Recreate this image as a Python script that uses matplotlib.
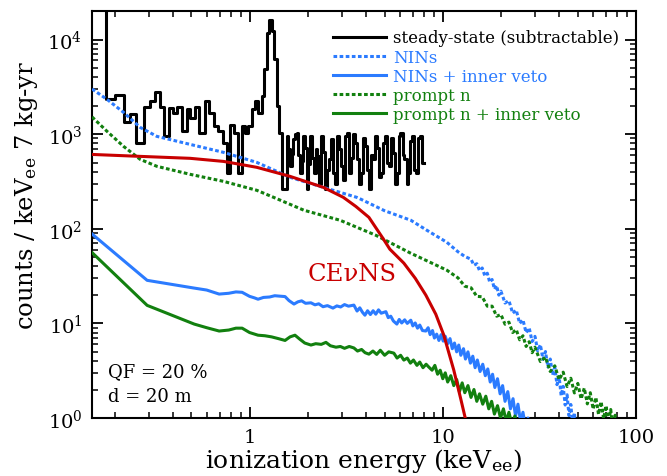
import matplotlib
matplotlib.use("Agg")
import matplotlib.pyplot as plt
import matplotlib.ticker as ticker
import numpy as np

# ── style ────────────────────────────────────────────────────────────────────
plt.rcParams.update({
    "font.family": "DejaVu Serif",
    "mathtext.fontset": "dejavuserif",
    "axes.linewidth": 1.5,
})

BLUE = "#2b7bff"
GREEN = "#12800f"
RED = "#c80000"

# ── steady-state background (histogram, keV bin edges / counts) ─────────────
ss_edges = [0.12, 0.1813, 0.2018, 0.2228, 0.2412, 0.2580, 0.2827, 0.3036, 0.3223,
            0.3420, 0.3615, 0.3806, 0.4008, 0.4236, 0.4460, 0.4734, 0.4926, 0.5228,
            0.5505, 0.5888, 0.6200, 0.6554, 0.6901, 0.7266, 0.7621, 0.7929, 0.8315,
            0.8756, 0.9111, 0.9479, 0.9862, 1.026, 1.068, 1.111, 1.156, 1.188, 1.227,
            1.261, 1.302, 1.339, 1.382, 1.426, 1.466,
            1.556, 1.587, 1.619, 1.652, 1.685, 1.719, 1.753, 1.788, 1.824, 1.860,
            1.897, 1.935, 1.974, 2.014, 2.054, 2.103, 2.154, 2.197, 2.242, 2.296,
            2.351, 2.398, 2.446, 2.505, 2.565, 2.627, 2.690, 2.755, 2.821, 2.889,
            2.959, 3.030, 3.103, 3.178, 3.254, 3.333, 3.414, 3.496, 3.580, 3.666,
            3.754, 3.845, 3.937, 4.032, 4.129, 4.228, 4.330, 4.435, 4.542, 4.651,
            4.763, 4.878, 4.995, 5.116, 5.239, 5.365, 5.494, 5.626, 5.762, 5.900,
            6.042, 6.188, 6.337, 6.490, 6.646, 6.806, 6.970, 7.138, 7.310, 7.486,
            7.666, 7.820, 7.977]
ss_counts = [1e5, 2328, 2566, 1341, 1616, 812, 1947, 2234, 2781, 1947, 954, 1901,
             1683, 1947, 1078, 1824, 1490, 1947, 1035, 2234, 1683, 1217, 1078, 812,
             392, 1237, 1035, 392, 1217, 1035, 1217, 1824, 2234, 1683, 2523, 4823,
             11760, 16260, 12250, 6150, 1978, 1035, 261,
             954, 700, 460, 620, 880, 1000, 1040, 600, 392, 520, 954, 720,
             261, 480, 954, 560, 392, 700, 587, 300, 954, 640, 261, 420,
             542, 880, 392, 300, 954, 700, 460, 330, 960, 1040, 392, 560,
             1000, 800, 542, 300, 392, 900, 749, 420, 261, 600, 542, 954,
             719, 350, 392, 800, 954, 500, 460, 900, 637, 300, 392, 954,
             1030, 600, 542, 300, 392, 850, 954, 420, 392, 900, 954, 500]

# ── NINs (dotted blue) ─────────────────────────────────────────────────────
nins_e = [0.153, 0.183, 0.2228, 0.2716, 0.3313, 0.4926, 0.7323, 1.089, 1.619,
          2.407, 3.58, 3.77, 5.0, 6.83, 8.3, 10.49, 12.0, 13.0,
          14, 14.5, 15, 15.5, 16, 16.5, 17, 17.5, 18, 18.5, 19, 19.5, 20, 21, 22,
          23, 24, 25, 26, 27, 28, 29, 30, 31, 32, 33, 34, 35, 36, 37, 38, 39, 40,
          41, 42, 43, 44, 45, 46, 47, 48, 49, 50]
nins_c = [3000, 2328, 1697, 1178, 947, 779, 642, 503, 350,
          274, 215, 205, 155, 123, 96, 72, 57, 51,
          47.6, 41.1, 42.7, 36.1, 38.5, 31.9, 33.9, 27.2, 29.1, 23.0, 25.1, 19.9,
          21.9, 16.4, 17.4, 12.8, 13.8, 10.0, 10.9, 7.96, 8.97, 6.43, 7.29, 5.11,
          5.96, 4.17, 5.04, 3.47, 4.2, 2.85, 3.43, 2.25, 2.74, 1.72, 2.16, 1.37,
          1.76, 1.06, 1.39, 0.84, 1.14, 0.66, 0.74]

# ── NINs + inner veto (solid blue) ────────────────────────────────────────
ninsv_e = [0.153, 0.295, 0.517, 0.60, 0.696, 0.78, 0.85, 0.915, 1.0, 1.06, 1.106,
           1.18, 1.27, 1.35, 1.43, 1.526, 1.60, 1.698, 1.78, 1.86, 1.95, 2.078,
           2.18, 2.28, 2.40, 2.53, 2.701, 2.83, 2.96, 3.10, 3.25, 3.467, 3.60,
           3.72, 3.84, 3.954, 4.08, 4.22, 4.36, 4.50, 4.65, 4.80, 5.076, 5.22,
           5.38, 5.55, 5.785, 5.95, 6.13, 6.35, 6.55, 6.832, 7.0, 7.2, 7.4, 7.6,
           7.85, 8.17, 8.4, 8.6, 8.85, 9.05, 9.3, 9.55, 9.8, 10.05, 10.3, 10.6,
           10.9, 11.2, 11.5, 11.8, 12.1, 12.4, 12.8, 13.1, 13.5, 13.9, 14.3, 14.7,
           15.1, 15.6, 16.1, 16.6, 17.1, 17.6, 18.1, 18.6, 19.2, 19.8, 20.4, 21.0,
           21.7, 22.4, 23.1, 23.8, 24.5, 25.3, 26.0, 26.8, 27.6, 28.5, 29.3, 30.2,
           31.2, 32.2]
ninsv_c = [88, 28.5, 23.6, 22.5, 20.4, 20.8, 21.5, 21.3, 19.3, 18.6, 18.0,
           18.8, 19.0, 19.6, 19.4, 19.2, 17.4, 16.0, 16.9, 17.3, 16.3, 16.5,
           15.7, 16.1, 15.0, 15.4, 14.5, 15.3, 14.9, 15.8, 15.2, 15.6, 13.5,
           14.6, 13.1, 12.2, 13.6, 12.4, 13.6, 12.5, 13.9, 12.8, 13.3, 11.5,
           11.9, 10.6, 9.83, 11.0, 10.1, 10.9, 10.0, 10.8, 9.4, 10.1, 8.9, 9.6,
           8.4, 8.3, 9.0, 7.6, 8.4, 7.0, 7.7, 6.6, 7.6, 6.5, 7.3, 6.1,
           6.9, 5.4, 6.2, 5.0, 5.9, 4.6, 5.4, 4.2, 5.0, 3.8, 4.5, 3.4,
           4.1, 3.1, 3.7, 2.8, 3.3, 2.4, 2.9, 2.1, 2.6, 1.8, 2.2, 1.5,
           1.9, 1.25, 1.6, 1.05, 1.4, 0.9, 1.15, 0.8, 1.0, 0.7, 0.9, 0.72,
           0.85, 0.65]

# ── prompt n (dotted green) ───────────────────────────────────────────────
pn_e = [0.153, 0.183, 0.2228, 0.2716, 0.3313, 0.4926, 0.7323, 1.089, 1.33, 1.91,
        2.94, 4.5, 6.83, 8.5, 10.49,
        12, 13, 14, 15, 16, 17, 18, 19, 20, 21, 22, 23, 24, 25, 26, 27, 28, 29,
        30, 32, 34, 36, 38, 40, 42, 44, 46, 48, 50, 52, 54, 56, 58, 60, 62, 64,
        66, 68, 70, 72, 74, 76, 78, 80, 82]
pn_c = [1520, 1069, 742, 541, 457, 376, 317, 255, 215, 157,
        123, 85.4, 55.1, 44.7, 36.5,
        30.2, 24.7, 23.8, 19.3, 19.1, 15.2, 15.2, 11.9, 12.4, 9.8, 10.3, 8.0,
        8.6, 6.7, 7.4, 5.7, 6.4, 4.9, 5.6, 3.95, 4.4, 3.1, 3.56, 2.54, 3.05,
        2.15, 2.63, 1.84, 2.32, 1.59, 2.07, 1.41, 1.85, 1.24, 1.65, 1.09, 1.49,
        0.98, 1.35, 0.88, 1.23, 0.77, 1.07, 0.67, 0.7]

# ── prompt n + inner veto (solid green) ───────────────────────────────────
pnv_e = [0.153, 0.295, 0.517, 0.60, 0.696, 0.78, 0.85, 0.915, 1.0, 1.106, 1.2,
         1.3, 1.41, 1.526, 1.62, 1.718, 1.82, 1.93, 2.078, 2.2, 2.35, 2.485,
         2.62, 2.80, 2.95, 3.10, 3.28, 3.467, 3.62, 3.80, 3.96, 4.146, 4.35,
         4.55, 4.75, 5.0, 5.25, 5.58, 5.8, 6.05, 6.288, 6.55, 6.8, 7.05, 7.35,
         7.6, 7.9, 8.2, 8.47, 8.8, 9.1, 9.4, 9.7, 10.0, 10.3, 10.6, 11.0, 11.4,
         11.8, 12.2, 12.6, 13.0, 13.5, 14.0, 14.5, 15.0, 15.5, 16.1, 16.7, 17.3,
         17.9, 18.5, 19.2, 19.9, 20.6, 21.3, 22.0, 22.8, 23.6, 24.4, 25.2, 26.0,
         26.8, 27.7, 28.6, 29.5, 30.5, 31.5, 32.5, 33.5]
pnv_c = [56, 15.5, 9.83, 9.0, 8.3, 8.5, 8.9, 8.9, 8.0, 7.5, 7.4,
         7.2, 6.9, 6.6, 7.2, 7.5, 6.8, 6.2, 5.9, 6.1, 6.0, 6.3,
         5.8, 5.6, 5.7, 5.45, 5.7, 5.5, 5.1, 5.3, 4.9, 4.73, 5.1,
         4.7, 5.2, 4.6, 5.0, 4.85, 4.3, 4.6, 4.09, 4.3, 3.8, 4.1, 3.6,
         3.9, 3.4, 3.7, 3.45, 3.2, 3.6, 2.9, 3.2, 2.6, 3.0, 2.4, 2.8, 2.2,
         2.55, 1.9, 2.35, 1.85, 2.2, 1.65, 2.0, 1.5, 1.8, 1.4, 1.7, 1.25,
         1.5, 1.1, 1.35, 1.0, 1.25, 0.92, 1.15, 0.85, 1.05, 0.8, 0.95, 0.7,
         0.9, 0.72, 0.85, 0.68, 0.8, 0.66, 0.75, 0.6]

# ── CEvNS signal (solid red) ──────────────────────────────────────────────
cevns_e = [0.150, 0.2716, 0.4926, 0.7323, 1.089, 1.619, 2.407, 3.054, 3.55, 4.146,
           4.897, 5.322, 6.288, 7.2, 8.17, 9.2, 10.12, 11.40, 12.39, 13.3]
cevns_c = [611, 582, 555, 515, 446, 358, 274, 215, 172, 132,
           79.4, 60.8, 43.3, 30, 19.9, 12.5, 7.52, 3.21, 1.59, 0.86]

DOT = (0, (1.2, 0.8))

fig = plt.figure(figsize=(6.67, 4.77), dpi=100)
ax = fig.add_axes([0.138, 0.1216, 0.8155, 0.8532])

ax.plot(ss_edges, ss_counts + [ss_counts[-1]], drawstyle="steps-post",
        color="black", lw=2.2, label="steady-state (subtractable)", zorder=2)
ax.plot(nins_e, nins_c, color=BLUE, lw=2.2, ls=DOT, label="NINs", zorder=3)
ax.plot(ninsv_e, ninsv_c, color=BLUE, lw=2.2, label="NINs + inner veto", zorder=3)
ax.plot(pn_e, pn_c, color=GREEN, lw=2.2, ls=DOT, label="prompt n", zorder=3)
ax.plot(pnv_e, pnv_c, color=GREEN, lw=2.2, label="prompt n + inner veto", zorder=3)
ax.plot(cevns_e, cevns_c, color=RED, lw=2.2, zorder=4)

ax.set_xscale("log")
ax.set_yscale("log")
ax.set_xlim(0.153, 100)
ax.set_ylim(1, 2e4)

ax.xaxis.set_major_formatter(ticker.FuncFormatter(lambda v, _: f"{v:g}"))
ax.tick_params(which="both", direction="in", top=True, right=True,
               labelsize=14)
ax.tick_params(which="major", length=8, width=1.3, pad=7)
ax.tick_params(which="minor", length=4.5, width=1.1)

ax.set_xlabel("ionization energy (keV$_{\\mathregular{ee}}$)", fontsize=18, labelpad=0)
ax.set_ylabel("counts / keV$_{\\mathregular{ee}}$ 7 kg-yr", fontsize=17.5)
ax.yaxis.set_label_coords(-0.095, 0.55)

ax.text(0.478, 0.355, "CE\u03bdNS", color=RED, fontsize=17.5,
        ha="center", va="center", transform=ax.transAxes)
ax.text(0.03, 0.115, "QF = 20 %", fontsize=13, va="center", transform=ax.transAxes)
ax.text(0.03, 0.054, "d = 20 m", fontsize=13, va="center", transform=ax.transAxes)

leg = ax.legend(loc="upper left", bbox_to_anchor=(0.443, 0.955), frameon=False,
                fontsize=12, handlelength=3.2, handletextpad=0.42,
                labelspacing=0.13, borderpad=0, borderaxespad=0)
for txt, col in zip(leg.get_texts(), ["black", BLUE, BLUE, GREEN, GREEN]):
    txt.set_color(col)

fig.savefig("out.png", dpi=100)
